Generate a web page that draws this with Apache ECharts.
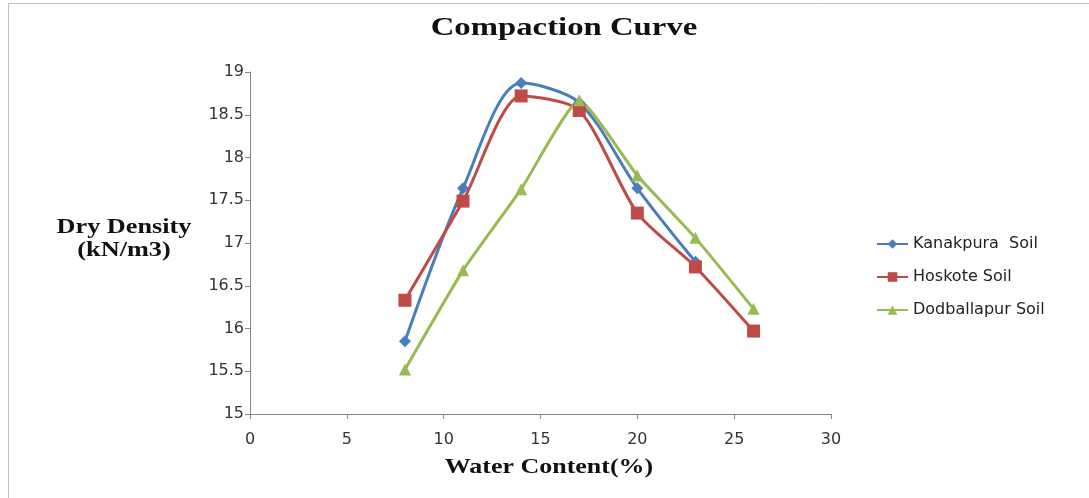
<!DOCTYPE html>
<html>
<head>
<meta charset="utf-8">
<script src="https://cdn.jsdelivr.net/npm/echarts@6/dist/echarts.min.js"></script>
<style>
html,body{margin:0;padding:0;background:#fff;}
#chart{width:1089px;height:498px;}
</style>
</head>
<body>
<div id="chart"></div>
<script>
// water content (%) and dry density (kN/m3)
var waterContent = [8, 11, 14, 17, 20, 23, 26];
var kanakpura = [15.85, 17.64, 18.87, 18.64, 17.64, 16.78];
var hoskote = [16.33, 17.49, 18.72, 18.55, 17.35, 16.72, 15.97];
var dodballapur = [15.52, 16.68, 17.63, 18.67, 17.79, 17.06, 16.23];
var seriesNames = ['Kanakpura  Soil', 'Hoskote Soil', 'Dodballapur Soil'];

function pairs(vals){
    var out = [];
    for (var i = 0; i < vals.length; i++) {
        out.push([waterContent[i], vals[i]]);
    }
    return out;
}

var myChart = echarts.init(document.getElementById('chart'));
var serif = '"Liberation Serif", "Times New Roman", serif';
var sans = '"DejaVu Sans", Arial, sans-serif';

// serif captions are drawn a bit stretched, like in the original picture
function caption(txt, x, y, size, sx){
    return {
        type: 'text', x: x, y: y, scaleX: sx, silent: true,
        style: {text: txt, align: 'center', verticalAlign: 'middle', fill: '#111',
            font: 'bold ' + size + 'px ' + serif}
    };
}

myChart.setOption({
    animation: false,
    graphic: [
        {   // outer chart frame
            type: 'rect', shape: {x: 8.5, y: 3.5, width: 1200, height: 600},
            style: {fill: 'none', stroke: '#bfbfbf', lineWidth: 1}, silent: true
        },
        caption('Compaction Curve', 564, 28.5, 26, 1.26),
        caption('Dry Density', 124, 228, 21, 1.25),
        caption('(kN/m3)', 124, 251, 21, 1.25),
        caption('Water Content(%)', 549, 467.5, 22, 1.18)
    ],
    legend: {
        orient: 'vertical',
        left: 871,
        top: 231,
        itemGap: 17,
        itemWidth: 31,
        itemHeight: 12,
        textStyle: {fontFamily: sans, fontSize: 16, lineHeight: 16, color: '#222'},
        data: seriesNames
    },
    grid: {left: 250, right: 258, top: 72, bottom: 84},
    xAxis: {
        type: 'value', min: 0, max: 30, interval: 5,
        axisLine: {lineStyle: {color: '#868686'}},
        axisTick: {show: true, length: 5, lineStyle: {color: '#868686'}},
        axisLabel: {fontFamily: sans, fontSize: 16, color: '#333', margin: 18},
        splitLine: {show: false}
    },
    yAxis: {
        type: 'value', min: 15, max: 19, interval: 0.5,
        axisLine: {show: true, lineStyle: {color: '#868686'}},
        axisTick: {show: true, length: 5, lineStyle: {color: '#868686'}},
        axisLabel: {fontFamily: sans, fontSize: 16, color: '#333', margin: 6},
        splitLine: {show: false}
    },
    series: [
        {
            name: seriesNames[0], type: 'line', smooth: 0.3,
            symbol: 'diamond', symbolSize: 12,
            lineStyle: {width: 3, color: '#4a7ebb'},
            itemStyle: {color: '#4a7ebb'},
            data: pairs(kanakpura)
        },
        {
            name: seriesNames[1], type: 'line', smooth: 0.25,
            symbol: 'rect', symbolSize: 13,
            lineStyle: {width: 3, color: '#be4b48'},
            itemStyle: {color: '#be4b48'},
            data: pairs(hoskote)
        },
        {
            name: seriesNames[2], type: 'line', smooth: 0.15,
            symbol: 'triangle', symbolSize: 12,
            lineStyle: {width: 3, color: '#98b954'},
            itemStyle: {color: '#98b954'},
            data: pairs(dodballapur)
        }
    ]
});
</script>
</body>
</html>
